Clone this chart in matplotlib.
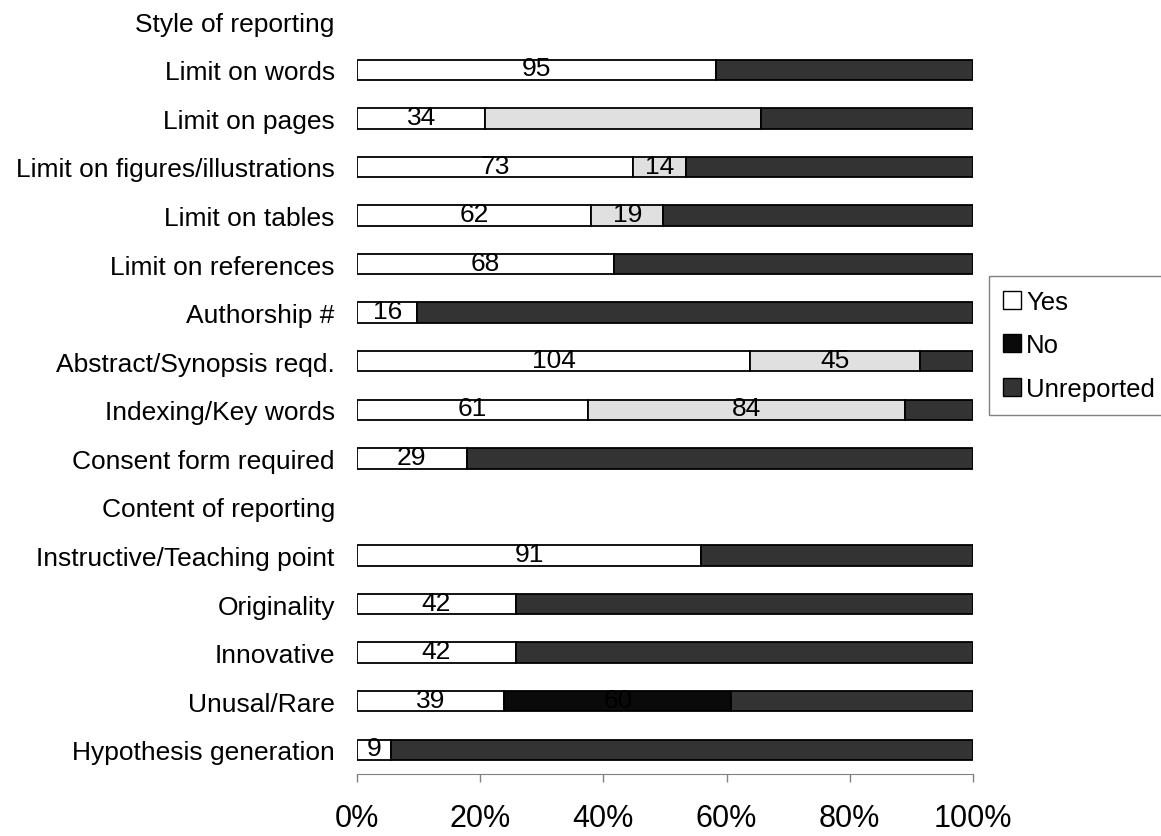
import numpy as np
import matplotlib.pyplot as plt
from matplotlib.patches import Patch

plt.rcParams['font.family'] = ['Liberation Sans', 'DejaVu Sans']

# rows (section headers have no bars)
categories = ['Style of reporting', 'Limit on words', 'Limit on pages',
              'Limit on figures/illustrations', 'Limit on tables',
              'Limit on references', 'Authorship #', 'Abstract/Synopsis reqd.',
              'Indexing/Key words', 'Consent form required',
              'Content of reporting', 'Instructive/Teaching point',
              'Originality', 'Innovative', 'Unusal/Rare', 'Hypothesis generation']
yes = [0, 95, 34, 73, 62, 68, 16, 104, 61, 29, 0, 91, 42, 42, 39, 9]
no = [0, 0, 73, 14, 19, 0, 0, 45, 84, 0, 0, 0, 0, 0, 60, 0]
unreported = [0, 68, 56, 76, 82, 95, 147, 14, 18, 134, 0, 72, 121, 121, 64, 154]
no_label_shown = [False, False, False, True, True, False, False, True, True,
                  False, False, False, False, False, True, False]
ticks = [0, 20, 40, 60, 80, 100]

yes = np.array(yes, dtype=float)
no = np.array(no, dtype=float)
unreported = np.array(unreported, dtype=float)
total = yes + no + unreported
has_bar = total > 0
tot = np.where(has_bar, total, 1)
p_yes = yes / tot * 100
p_no = no / tot * 100
p_unr = unreported / tot * 100

# "No" segment is black only for Unusal/Rare, light grey elsewhere
no_colors = ['#0a0a0a' if c == 'Unusal/Rare' else '#e0e0e0' for c in categories]

fig = plt.figure(figsize=(11.61, 8.37), dpi=100)
ax = fig.add_axes([357 / 1161, 1 - 775 / 837, (973 - 357) / 1161, 777 / 837])

y = np.arange(len(categories))
h = 0.42
for i in y[has_bar]:
    ax.barh(i, p_yes[i], height=h, color='white', edgecolor='black', linewidth=1.3)
    if p_no[i] > 0:
        ax.barh(i, p_no[i], left=p_yes[i], height=h, color=no_colors[i],
                edgecolor='black', linewidth=1.3)
    ax.barh(i, p_unr[i], left=p_yes[i] + p_no[i], height=h, color='#333333',
            edgecolor='black', linewidth=1.3)
    ax.text(p_yes[i] / 2, i - 0.03, f'{int(yes[i])}', ha='center', va='center',
            fontsize=19, color='black')
    if no_label_shown[i]:
        ax.text(p_yes[i] + p_no[i] / 2, i - 0.03, f'{int(no[i])}', ha='center',
                va='center', fontsize=19, color='black')

ax.set_ylim(len(categories) - 0.5, -0.5)
ax.set_xlim(0, 100)
ax.set_yticks(y)
ax.set_yticklabels(categories, fontsize=19)
ax.tick_params(axis='y', length=0, pad=16)
ax.set_xticks(ticks)
ax.set_xticklabels([f'{t}%' for t in ticks], fontsize=22)
ax.tick_params(axis='x', length=6, width=1, color='#808080', pad=15)
for s in ['left', 'top', 'right']:
    ax.spines[s].set_visible(False)
ax.spines['bottom'].set_color('#808080')

handles = [Patch(facecolor='white', edgecolor='black', label='Yes'),
           Patch(facecolor='#0a0a0a', edgecolor='black', label='No'),
           Patch(facecolor='#333333', edgecolor='black', label='Unreported')]
leg = fig.legend(handles=handles, loc='upper left',
                 bbox_to_anchor=(989 / 1161, 1 - 277 / 837), borderaxespad=0,
                 fontsize=18.5, handlelength=0.7, handleheight=0.7,
                 handletextpad=0.2, labelspacing=0.75, borderpad=0.55,
                 fancybox=False, framealpha=1)
leg.get_frame().set_edgecolor('#808080')
leg.get_frame().set_linewidth(1.0)

fig.savefig('out.png', dpi=100)
